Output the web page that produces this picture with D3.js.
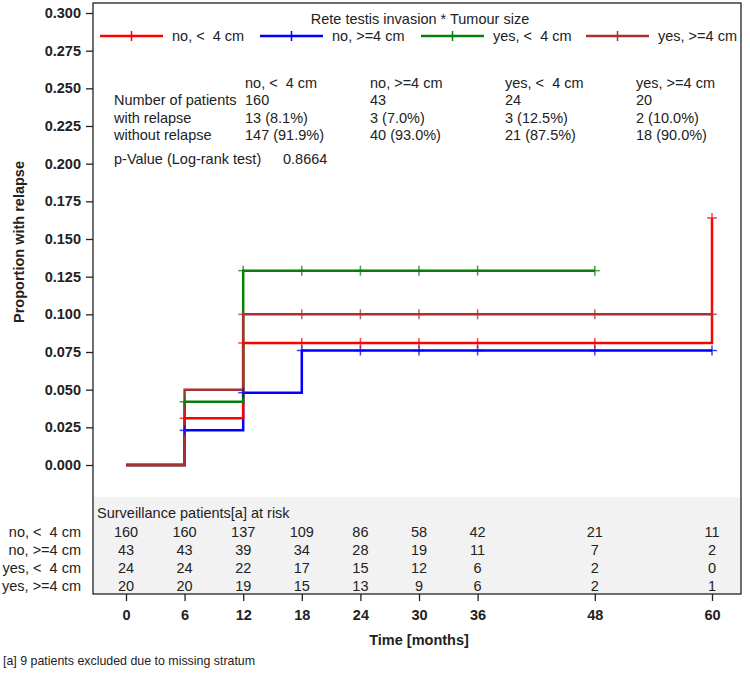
<!DOCTYPE html>
<html><head><meta charset="utf-8">
<script src="https://cdn.jsdelivr.net/npm/d3@7"></script>
<style>
body{margin:0;background:#fff;}
svg text{font-family:"Liberation Sans",Arial,sans-serif;white-space:pre;fill:#222;}
</style></head>
<body><svg id="c" width="750" height="674"></svg>
<script>
const groups = ["no, <  4 cm", "no, >=4 cm", "yes, <  4 cm", "yes, >=4 cm"];
const colors = ["#ff0000", "#0000ff", "#0a7d0a", "#a83232"];
// step curves: event times and cumulative proportion with relapse
const stepTimes = [[0, 6, 12, 60], [0, 6, 12, 18], [0, 6, 12], [0, 6, 12]];
const stepValues = [[0, 0.031, 0.081, 0.164], [0, 0.023, 0.048, 0.076], [0, 0.042, 0.129], [0, 0.050, 0.100]];
const endTimes = [60, 60, 48, 60];
const censorTimes = [
  [6, 12, 18, 24, 30, 36, 48, 60],
  [6, 12, 18, 24, 30, 36, 48, 60],
  [6, 12, 18, 24, 30, 36, 48],
  [12, 18, 24, 30, 36, 48, 60]
];
const riskTimes = [0, 6, 12, 18, 24, 30, 36, 48, 60];
const atRisk = [
  [160, 160, 137, 109, 86, 58, 42, 21, 11],
  [43, 43, 39, 34, 28, 19, 11, 7, 2],
  [24, 24, 22, 17, 15, 12, 6, 2, 0],
  [20, 20, 19, 15, 13, 9, 6, 2, 1]
];
const nPatients = ["160", "43", "24", "20"];
const withRelapse = ["13 (8.1%)", "3 (7.0%)", "3 (12.5%)", "2 (10.0%)"];
const withoutRelapse = ["147 (91.9%)", "40 (93.0%)", "21 (87.5%)", "18 (90.0%)"];
const pValue = "0.8664";
const yTicks = d3.range(0, 0.3001, 0.025);

const FS = 14.5;
const svg = d3.select("#c");
const x = d3.scaleLinear().domain([0, 60]).range([126, 712]);
const y = d3.scaleLinear().domain([0, 0.3]).range([465, 13]);
const L = 93, R = 741, T = 3, B = 594;

// risk table background
svg.append("rect").attr("x", L).attr("y", 497).attr("width", R - L).attr("height", B - 497).attr("fill", "#f2f2f2");
// frame
svg.append("rect").attr("x", L).attr("y", T).attr("width", R - L).attr("height", B - T)
  .attr("fill", "none").attr("stroke", "#222").attr("stroke-width", 1.3);

// y axis
const ya = svg.append("g").attr("transform", `translate(${L},0)`)
  .call(d3.axisLeft(y).tickValues(yTicks).tickFormat(d3.format(".3f")).tickSize(7).tickPadding(5));
ya.select(".domain").remove();
ya.selectAll("line").attr("stroke", "#222").attr("stroke-width", 1.3);
ya.selectAll("text").attr("font-size", FS).attr("font-weight", "bold").attr("fill", "#222")
  .style("font-family", '"Liberation Sans",Arial,sans-serif');

// x axis
const xa = svg.append("g").attr("transform", `translate(0,${B})`)
  .call(d3.axisBottom(x).tickValues(riskTimes).tickFormat(d3.format("d")).tickSize(7).tickPadding(9));
xa.select(".domain").remove();
xa.selectAll("line").attr("stroke", "#222").attr("stroke-width", 1.3);
xa.selectAll("text").attr("font-size", FS).attr("font-weight", "bold").attr("fill", "#222")
  .style("font-family", '"Liberation Sans",Arial,sans-serif');

svg.append("text").attr("x", 419).attr("y", 645).attr("text-anchor", "middle")
  .attr("font-size", FS).attr("font-weight", "bold").text("Time [months]");
svg.append("text").attr("transform", "translate(24,242) rotate(-90)").attr("text-anchor", "middle")
  .attr("font-size", FS).attr("font-weight", "bold").text("Proportion with relapse");
svg.append("text").attr("x", 3).attr("y", 665).attr("font-size", 12.4).text("[a] 9 patients excluded due to missing stratum");

// curves
const line = d3.line().x(d => x(d[0])).y(d => y(d[1])).curve(d3.curveStepAfter);
function valueAt(i, t) {
  let v = 0;
  stepTimes[i].forEach((tt, k) => { if (tt <= t) v = stepValues[i][k]; });
  return v;
}
const order = [1, 0, 2, 3];
order.forEach(i => {
  const pts = stepTimes[i].map((t, k) => [t, stepValues[i][k]]);
  pts.push([endTimes[i], stepValues[i][stepValues[i].length - 1]]);
  svg.append("path").attr("d", line(pts)).attr("fill", "none").attr("stroke", colors[i]).attr("stroke-width", 2.5);
});
order.forEach(i => {
  const g = svg.append("g").attr("stroke", colors[i]).attr("stroke-width", 1.5).attr("opacity", 0.75);
  censorTimes[i].forEach(t => {
    const cx = x(t), cy = y(valueAt(i, t));
    g.append("line").attr("x1", cx - 5).attr("x2", cx + 5).attr("y1", cy).attr("y2", cy);
    g.append("line").attr("x1", cx).attr("x2", cx).attr("y1", cy - 5).attr("y2", cy + 5);
  });
});

// legend
svg.append("text").attr("x", 420).attr("y", 24).attr("text-anchor", "middle").attr("font-size", FS)
  .text("Rete testis invasion * Tumour size");
const legX = [100, 260, 421, 586];
groups.forEach((gname, i) => {
  const x0 = legX[i], x1 = x0 + 63;
  svg.append("line").attr("x1", x0).attr("x2", x1).attr("y1", 36).attr("y2", 36).attr("stroke", colors[i]).attr("stroke-width", 2.5);
  svg.append("line").attr("x1", (x0 + x1) / 2).attr("x2", (x0 + x1) / 2).attr("y1", 31).attr("y2", 41).attr("stroke", colors[i]).attr("stroke-width", 1.5);
  svg.append("text").attr("x", x1 + 9).attr("y", 41).attr("font-size", FS).text(gname);
});

// stats table
const colX = [245, 370, 505, 636];
const rowY = [88, 105, 122.5, 140];
const labels = ["", "Number of patients", "with relapse", "without relapse"];
labels.forEach((lab, r) => svg.append("text").attr("x", 114).attr("y", rowY[r]).attr("font-size", FS).text(lab));
groups.forEach((gname, i) => {
  [gname, nPatients[i], withRelapse[i], withoutRelapse[i]].forEach((s, r) =>
    svg.append("text").attr("x", colX[i]).attr("y", rowY[r]).attr("font-size", FS).text(s));
});
svg.append("text").attr("x", 114).attr("y", 164).attr("font-size", FS).text("p-Value (Log-rank test)");
svg.append("text").attr("x", 283).attr("y", 164).attr("font-size", FS).text(pValue);

// risk table
svg.append("text").attr("x", 97).attr("y", 518).attr("font-size", FS).text("Surveillance patients[a] at risk");
const riskY = [537, 555, 573, 591];
groups.forEach((gname, i) => {
  svg.append("text").attr("x", 81).attr("y", riskY[i]).attr("text-anchor", "end").attr("font-size", FS).text(gname);
  riskTimes.forEach((t, k) => svg.append("text").attr("x", x(t)).attr("y", riskY[i]).attr("text-anchor", "middle")
    .attr("font-size", FS).text(atRisk[i][k]));
});
</script></body></html>
